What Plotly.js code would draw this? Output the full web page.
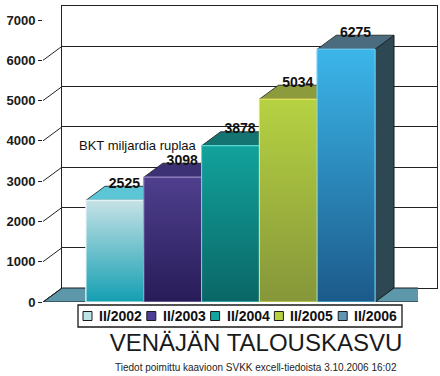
<!DOCTYPE html>
<html><head><meta charset="utf-8">
<script src="https://cdn.plot.ly/plotly-3.0.1.min.js"></script>
<style>html,body{margin:0;padding:0;background:#fff}</style>
</head><body><div id="chart" style="width:440px;height:376px"></div>
<script>
// ---- data ----
const seriesNames = ['II/2002', 'II/2003', 'II/2004', 'II/2005', 'II/2006'];
const gdpValues = [2525, 3098, 3878, 5034, 6275];
const yTickValues = [0, 1000, 2000, 3000, 4000, 5000, 6000, 7000];
const chartTitle = 'VENÄJÄN TALOUSKASVU';
const unitLabel = 'BKT miljardia ruplaa';
const sourceNote = 'Tiedot poimittu kaavioon SVKK excell-tiedoista 3.10.2006 16:02';

// ---- styles ----
const legendColors = ['#bfe2e4', '#4e3e98', '#12a49e', '#b6d040', '#6294b4'];
const gradTop = ['#c6e2e6', '#4f3f8e', '#12a29c', '#b6d242', '#3cb6ea'];
const gradBottom = ['#139fb2', '#281c58', '#0a6666', '#86963a', '#1b5a8a'];
const topColors = ['#5cc6d6', '#3d3176', '#137472', '#8c9c3c', '#4a6c7e'];
const sideColors = ['#1a7f90', '#251a50', '#0a5a58', '#6e7a2c', '#2e4853'];
const edgeColors = ['#eef8fa', '#9a8ed0', '#5ee0dc', '#e8e860', '#6ccaf0'];

const W = 440, H = 376, mL = 43, mR = 3, mT = 6, mB = 74;
const plotW = W - mL - mR, plotH = H - mT - mB;
const depthX = 19, depthY = 14;
const frontW = plotW - depthX, frontH = plotH - depthY;
const yMax = 7000;
const xPad = 0.744;
const n = gdpValues.length;
const xMin = -0.5 - xPad, xMax = n - 0.5 + xPad;
const pxPerX = frontW / (xMax - xMin);
const pxPerY = frontH / yMax;
const bw = pxPerX; // bar width px (width 1)
const FONT = 'Arial, Liberation Sans, sans-serif';
const px2paperX = p => (p - mL) / plotW;
const px2paperY = p => (mT + plotH - p) / plotH;

const traces = [];
// back wall subplot anchor trace
traces.push({type: 'scatter', x: [], y: [], xaxis: 'x', yaxis: 'y', showlegend: false, hoverinfo: 'skip'});
// front faces
gdpValues.forEach((v, i) => {
  traces.push({
    type: 'bar', x: [i], y: [v], width: [1], name: seriesNames[i], showlegend: false,
    marker: {color: legendColors[i], line: {color: edgeColors[i], width: 1}},
    xaxis: 'x2', yaxis: 'y2', hoverinfo: 'skip'
  });
});
// gradient overlays
gdpValues.forEach((v, i) => {
  traces.push({
    type: 'scatter', mode: 'lines', showlegend: false, hoverinfo: 'skip',
    x: [i - 0.5, i + 0.5, i + 0.5, i - 0.5, i - 0.5],
    y: [0, 0, v, v, 0],
    fill: 'toself', fillcolor: legendColors[i],
    fillgradient: {type: 'vertical', colorscale: [[0, gradBottom[i]], [1, gradTop[i]]]},
    line: {color: edgeColors[i], width: 1},
    xaxis: 'x2', yaxis: 'y2'
  });
});
// value labels on the back edge of each bar top
traces.push({
  type: 'scatter', mode: 'text', showlegend: false, hoverinfo: 'skip', cliponaxis: false,
  x: gdpValues.map((v, i) => i + (depthX / 2) / pxPerX),
  y: gdpValues.map(v => v + (depthY + 2) / pxPerY),
  text: gdpValues.map(v => String(v)), textposition: 'middle center',
  textfont: {family: FONT, size: 14, color: '#111', weight: 'bold'},
  xaxis: 'x2', yaxis: 'y2'
});

const shapes = [];
// floor
shapes.push({
  type: 'path', xref: 'x2', yref: 'y2', xsizemode: 'pixel', ysizemode: 'pixel',
  xanchor: xMin, yanchor: 0, layer: 'below',
  path: `M0,0 L${frontW},0 L${frontW + depthX},${depthY} L${depthX},${depthY} Z`,
  fillcolor: '#5c97aa', line: {color: '#1a1a1a', width: 1}
});
// category axis end tick
shapes.push({
  type: 'line', xref: 'x2', yref: 'y2', xsizemode: 'pixel', ysizemode: 'pixel',
  xanchor: xMax, yanchor: 0, layer: 'below',
  x0: 0, y0: 0, x1: 0, y1: -5, line: {color: '#222', width: 1}
});
// left wall diagonals
yTickValues.forEach(t => {
  shapes.push({
    type: 'line', xref: 'x2', yref: 'y2', xsizemode: 'pixel', ysizemode: 'pixel',
    xanchor: xMin, yanchor: t, layer: 'below',
    x0: 0, y0: 0, x1: depthX, y1: depthY, line: {color: '#222', width: 1}
  });
});
// side and top faces
gdpValues.forEach((v, i) => {
  const hpx = v * pxPerY;
  shapes.push({
    type: 'path', xref: 'x2', yref: 'y2', xsizemode: 'pixel', ysizemode: 'pixel',
    xanchor: i + 0.5, yanchor: v, layer: 'below',
    path: `M0,0 L${depthX},${depthY} L${depthX},${depthY - hpx} L0,${-hpx} Z`,
    fillcolor: sideColors[i], line: {color: '#1a1a1a', width: 1}
  });
  shapes.push({
    type: 'path', xref: 'x2', yref: 'y2', xsizemode: 'pixel', ysizemode: 'pixel',
    xanchor: i - 0.5, yanchor: v, layer: 'below',
    path: `M0,0 L${bw},0 L${bw + depthX},${depthY} L${depthX},${depthY} Z`,
    fillcolor: topColors[i], line: {color: '#1a1a1a', width: 0.8}
  });
});

// legend box (drawn by hand to match the compact layout of the original)
const legBox = {x0: 78, x1: 402, y0: 305, y1: 327};
const legStart = 83, legStep = 63.8, legSq = 9;
shapes.push({
  type: 'rect', xref: 'paper', yref: 'paper', layer: 'above',
  x0: px2paperX(legBox.x0), x1: px2paperX(legBox.x1), y0: px2paperY(legBox.y1), y1: px2paperY(legBox.y0),
  fillcolor: '#fff', line: {color: '#1a1a1a', width: 1.3}
});
const annotations = [];
seriesNames.forEach((name, i) => {
  const sx = legStart + i * legStep;
  const cy = (legBox.y0 + legBox.y1) / 2;
  shapes.push({
    type: 'rect', xref: 'paper', yref: 'paper', layer: 'above',
    x0: px2paperX(sx), x1: px2paperX(sx + legSq), y0: px2paperY(cy + legSq / 2), y1: px2paperY(cy - legSq / 2),
    fillcolor: legendColors[i], line: {color: '#1a1a1a', width: 1}
  });
  annotations.push({
    xref: 'paper', yref: 'paper', x: px2paperX(sx + legSq + 5), y: px2paperY(cy),
    xanchor: 'left', yanchor: 'middle', showarrow: false, text: name,
    font: {family: FONT, size: 14, color: '#111', weight: 'bold'}
  });
});

annotations.push({
  xref: 'paper', yref: 'paper', x: px2paperX(77), y: px2paperY(145),
  xanchor: 'left', yanchor: 'middle', showarrow: false, text: unitLabel,
  font: {family: FONT, size: 13, color: '#111'}
});
annotations.push({
  xref: 'paper', yref: 'paper', x: px2paperX(256), y: px2paperY(367),
  xanchor: 'center', yanchor: 'middle', showarrow: false, text: sourceNote,
  font: {family: FONT, size: 10, color: '#222'}
});

const layout = {
  width: W, height: H, margin: {l: mL, r: mR, t: mT, b: mB},
  paper_bgcolor: '#fff', plot_bgcolor: 'rgba(0,0,0,0)',
  showlegend: false, barmode: 'overlay',
  title: {text: chartTitle, xref: 'container', yref: 'container', x: 256 / W, xanchor: 'center',
          y: 1 - 343 / H, yanchor: 'middle',
          font: {family: FONT, size: 24, color: '#1a1a1a'}},
  xaxis: {domain: [depthX / plotW, 1], range: [0, 1], anchor: 'y', showgrid: false, zeroline: false,
          showticklabels: false, ticks: '', showline: true, mirror: true, linecolor: '#222', linewidth: 1, fixedrange: true},
  yaxis: {domain: [depthY / plotH, 1], range: [0, yMax], anchor: 'x', tickvals: yTickValues, showticklabels: false,
          ticks: '', showgrid: true, gridcolor: '#222', gridwidth: 1, zeroline: false,
          showline: true, mirror: true, linecolor: '#222', linewidth: 1, fixedrange: true},
  xaxis2: {domain: [0, frontW / plotW], range: [xMin, xMax], anchor: 'y2', visible: false, fixedrange: true},
  yaxis2: {domain: [0, frontH / plotH], range: [0, yMax], anchor: 'x2', tickvals: yTickValues,
           ticks: 'outside', ticklen: 4, tickcolor: '#222', showline: false,
           showgrid: false, zeroline: false, fixedrange: true,
           tickfont: {family: FONT, size: 13, color: '#1a1a1a', weight: 'bold'}},
  shapes: shapes, annotations: annotations
};
Plotly.newPlot('chart', traces, layout, {displayModeBar: false, staticPlot: true});
</script></body></html>
